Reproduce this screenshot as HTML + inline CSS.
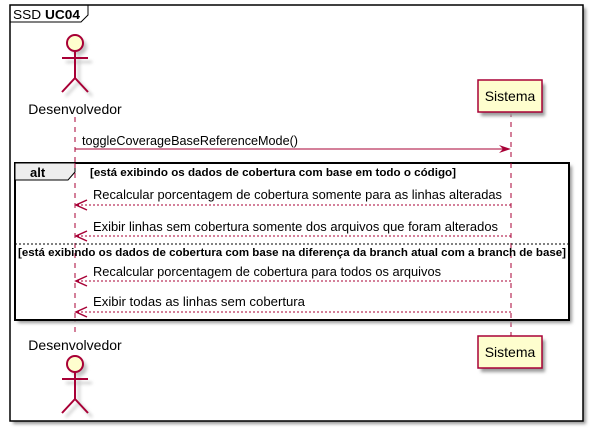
<!DOCTYPE html>
<html><head><meta charset="utf-8"><style>
html,body{margin:0;padding:0;background:#fff;}
svg{display:block;}
text{font-family:"Liberation Sans",sans-serif;}
</style></head><body>
<svg width="593" height="432" xmlns="http://www.w3.org/2000/svg">
<defs>
<filter id="sh" x="-10%" y="-10%" width="130%" height="130%"><feGaussianBlur stdDeviation="1.5"/></filter>
</defs>
<rect x="13" y="8" width="573" height="416" fill="#999" filter="url(#sh)"/>
<rect x="10" y="5" width="573" height="416" fill="#fff" stroke="#000" stroke-width="1.5"/>
<path d="M10,5 L88,5 L88,15 L81,22 L10,22" fill="none" stroke="#000" stroke-width="1"/>
<text x="13" y="19" font-size="13" textLength="67" lengthAdjust="spacingAndGlyphs">SSD <tspan font-weight="bold">UC04</tspan></text>

<line x1="75" y1="117" x2="75" y2="335" stroke="#A80036" stroke-dasharray="5,5"/>
<line x1="511" y1="112" x2="511" y2="336" stroke="#A80036" stroke-dasharray="5,5"/>

<g filter="url(#sh)" opacity="0.5" transform="translate(4,4)">
<circle cx="75" cy="43" r="8" fill="#888"/>
<path d="M75,51 V78 M62,58 H88 M75,78 L62,92 M75,78 L88,92" stroke="#888" stroke-width="2" fill="none"/>
</g>
<circle cx="75" cy="43" r="8" fill="#FEFECE" stroke="#A80036" stroke-width="2"/>
<path d="M75,51 V78 M62,58 H88 M75,78 L62,92 M75,78 L88,92" stroke="#A80036" stroke-width="2" fill="none"/>
<text x="75" y="114" font-size="14" text-anchor="middle">Desenvolvedor</text>

<text x="75" y="350" font-size="14" text-anchor="middle">Desenvolvedor</text>
<g filter="url(#sh)" opacity="0.5" transform="translate(4,4)">
<circle cx="75" cy="364" r="8" fill="#888"/>
<path d="M75,372 V399 M62,379 H88 M75,399 L62,413 M75,399 L88,413" stroke="#888" stroke-width="2" fill="none"/>
</g>
<circle cx="75" cy="364" r="8" fill="#FEFECE" stroke="#A80036" stroke-width="2"/>
<path d="M75,372 V399 M62,379 H88 M75,399 L62,413 M75,399 L88,413" stroke="#A80036" stroke-width="2" fill="none"/>

<rect x="481" y="84" width="64" height="32" fill="#999" filter="url(#sh)"/>
<rect x="478" y="80" width="64" height="32" fill="#FEFECE" stroke="#A80036" stroke-width="1.5"/>
<text x="510" y="101" font-size="14" text-anchor="middle">Sistema</text>
<rect x="481" y="340" width="64" height="32" fill="#999" filter="url(#sh)"/>
<rect x="478" y="336" width="64" height="32" fill="#FEFECE" stroke="#A80036" stroke-width="1.5"/>
<text x="510" y="357" font-size="14" text-anchor="middle">Sistema</text>

<text x="82" y="145" font-size="13" textLength="216" lengthAdjust="spacingAndGlyphs">toggleCoverageBaseReferenceMode()</text>
<line x1="75" y1="149" x2="509" y2="149" stroke="#A80036"/>
<polygon points="499,145 511,149 499,153 503,149" fill="#A80036"/>

<rect x="18" y="166" width="554" height="157" fill="#999" filter="url(#sh)"/>
<rect x="15" y="163" width="554" height="157" fill="#fff" stroke="#000" stroke-width="2"/>
<path d="M15,163 L75,163 L75,172 L68,180 L15,180 Z" fill="#EEE" stroke="#000" stroke-width="1"/>
<text x="30" y="177" font-size="13" font-weight="bold">alt</text>
<text x="90" y="176" font-size="11" font-weight="bold" textLength="366" lengthAdjust="spacingAndGlyphs">[está exibindo os dados de cobertura com base em todo o código]</text>
<line x1="75" y1="163" x2="75" y2="320" stroke="#A80036" stroke-dasharray="5,5"/>
<line x1="511" y1="163" x2="511" y2="320" stroke="#A80036" stroke-dasharray="5,5"/>

<g font-size="13">
<text x="93" y="199" textLength="409" lengthAdjust="spacingAndGlyphs">Recalcular porcentagem de cobertura somente para as linhas alteradas</text>
<line x1="77" y1="205" x2="511" y2="205" stroke="#A80036" stroke-dasharray="2,2"/>
<path d="M87,200 L76,205 L87,210" stroke="#A80036" stroke-width="1.5" fill="none"/>

<text x="93" y="231" textLength="405" lengthAdjust="spacingAndGlyphs">Exibir linhas sem cobertura somente dos arquivos que foram alterados</text>
<line x1="77" y1="236" x2="511" y2="236" stroke="#A80036" stroke-dasharray="2,2"/>
<path d="M87,231 L76,236 L87,241" stroke="#A80036" stroke-width="1.5" fill="none"/>

<line x1="15" y1="244" x2="569" y2="244" stroke="#000" stroke-dasharray="2,2"/>
<text x="18" y="256" font-size="11" font-weight="bold" textLength="548" lengthAdjust="spacingAndGlyphs">[está exibindo os dados de cobertura com base na diferença da branch atual com a branch de base]</text>

<text x="93" y="276" textLength="348" lengthAdjust="spacingAndGlyphs">Recalcular porcentagem de cobertura para todos os arquivos</text>
<line x1="77" y1="281" x2="511" y2="281" stroke="#A80036" stroke-dasharray="2,2"/>
<path d="M87,276 L76,281 L87,286" stroke="#A80036" stroke-width="1.5" fill="none"/>

<text x="93" y="306" textLength="212" lengthAdjust="spacingAndGlyphs">Exibir todas as linhas sem cobertura</text>
<line x1="77" y1="312" x2="511" y2="312" stroke="#A80036" stroke-dasharray="2,2"/>
<path d="M87,307 L76,312 L87,317" stroke="#A80036" stroke-width="1.5" fill="none"/>
</g>
</svg>
</body></html>
